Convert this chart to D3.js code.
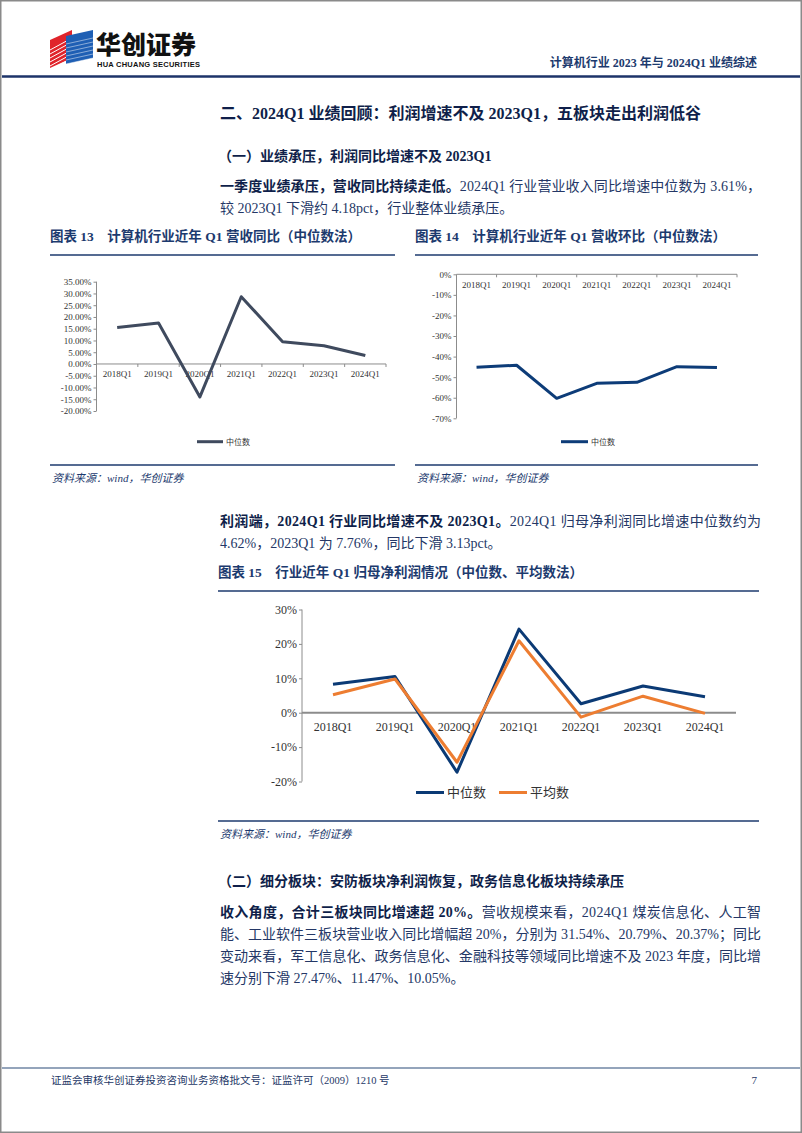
<!DOCTYPE html>
<html>
<head>
<meta charset="utf-8">
<style>
body { margin: 0; background: #fff; }
svg text { font-family: "Liberation Serif", "Noto Sans CJK SC", serif; }
</style>
</head>
<body>
<svg id="page" width="802" height="1133"></svg>
<script src="https://cdn.jsdelivr.net/npm/d3@7/dist/d3.min.js"></script>
<script>
    // data
    const quarters = ["2018Q1", "2019Q1", "2020Q1", "2021Q1", "2022Q1", "2023Q1", "2024Q1"];
    const rev_yoy = [15.5, 17.4, -14.0, 28.6, 9.5, 7.79, 3.61];
    const rev_qoq = [-45.2, -44.2, -60.3, -53.0, -52.5, -44.9, -45.3];
    const profit_median = [8.3, 10.5, -17.3, 24.3, 2.6, 7.76, 4.62];
    const profit_mean = [5.2, 9.8, -14.4, 20.9, -1.3, 4.8, -0.2];
    const yoy_ticks = [-20, -15, -10, -5, 0, 5, 10, 15, 20, 25, 30, 35];
    const qoq_ticks = [-70, -60, -50, -40, -30, -20, -10, 0];
    const profit_ticks = [-20, -10, 0, 10, 20, 30];

    const navy = "#1c3a6e";
    const ink = "#0f1f4a";
    const body = "#243766";
    const page = d3.select("#page");

    // page frame + header
    page.append("rect").attr("x", 0.75).attr("y", 0.75).attr("width", 800.5).attr("height", 1131.5)
        .style("fill", "none").style("stroke", "#8a8a8a").style("stroke-width", 1.5);
    page.append("line").attr("x1", 2).attr("x2", 800).attr("y1", 76.5).attr("y2", 76.5)
        .style("stroke", "#1d3369").style("stroke-width", 2.5);

    // logo cube
    const logo = page.append("g");
    logo.append("polygon").attr("points", "50,40 72,30 72,58 50,68").style("fill", "#e0242b");
    for (let k = 0; k < 6; k++) {
        logo.append("line").attr("x1", 50).attr("y1", 50 + k * 4).attr("x2", 72).attr("y2", 38 + k * 4)
            .style("stroke", "#fff").style("stroke-width", 1);
    }
    logo.append("polygon").attr("points", "66,36 93,30 93,58 66,64").style("fill", "#1f5fb4");
    for (let k = 0; k < 6; k++) {
        logo.append("line").attr("x1", 66).attr("y1", 44 + k * 4).attr("x2", 93).attr("y2", 38 + k * 4)
            .style("stroke", "#fff").style("stroke-width", 0.8).style("opacity", 0.6);
    }
    page.append("text").attr("x", 96).attr("y", 54).text("华创证券")
        .style("font-family", "Noto Sans CJK SC").style("font-weight", 900).style("font-size", "25px").style("fill", "#111");
    page.append("text").attr("x", 97).attr("y", 67).text("HUA CHUANG SECURITIES")
        .attr("textLength", 103).style("font-family", "Liberation Sans").style("font-weight", "bold")
        .style("font-size", "7.5px").style("fill", "#111");
    page.append("text").attr("x", 757).attr("y", 67).attr("text-anchor", "end")
        .text("计算机行业 2023 年与 2024Q1 业绩综述")
        .style("font-weight", "bold").style("font-size", "12px").style("fill", navy);

    // text helpers
    function heading(x, y, str, size) {
        page.append("text").attr("x", x).attr("y", y).text(str)
            .style("font-weight", "bold").style("font-size", size + "px").style("fill", ink);
    }
    function para(x, y, parts, width) {
        const t = page.append("text").attr("x", x).attr("y", y).style("font-size", "14px");
        if (width) t.attr("textLength", width).attr("lengthAdjust", "spacing");
        parts.forEach(p => {
            t.append("tspan").text(p[0])
                .style("font-weight", p[1] ? "bold" : "normal")
                .style("fill", p[1] ? ink : body);
        });
    }
    function figTitle(x, y, x2, str) {
        page.append("text").attr("x", x).attr("y", y).text(str)
            .style("font-weight", "bold").style("font-size", "13.5px").style("fill", navy);
        page.append("line").attr("x1", x).attr("x2", x2).attr("y1", y + 14).attr("y2", y + 14)
            .style("stroke", navy).style("stroke-width", 1.5);
    }
    function source(x, y, x2) {
        page.append("line").attr("x1", x).attr("x2", x2).attr("y1", y).attr("y2", y)
            .style("stroke", navy).style("stroke-width", 1.5);
        page.append("text").attr("x", x + 2).attr("y", y + 17).text("资料来源：wind，华创证券")
            .style("font-style", "italic").style("font-size", "11px").style("fill", navy);
    }

    heading(220, 119, "二、2024Q1 业绩回顾：利润增速不及 2023Q1，五板块走出利润低谷", 16);
    heading(218, 161, "（一）业绩承压，利润同比增速不及 2023Q1", 14);
    para(220, 191, [["一季度业绩承压，营收同比持续走低。", true], ["2024Q1 行业营业收入同比增速中位数为 3.61%，", false]], 541);
    para(220, 213, [["较 2023Q1 下滑约 4.18pct，行业整体业绩承压。", false]]);

    figTitle(50, 241, 395, "图表 13　计算机行业近年 Q1 营收同比（中位数法）");
    figTitle(415, 241, 758, "图表 14　计算机行业近年 Q1 营收环比（中位数法）");
    source(50, 465, 395);
    source(415, 465, 758);

    para(220, 526, [["利润端，2024Q1 行业同比增速不及 2023Q1。", true], ["2024Q1 归母净利润同比增速中位数约为", false]], 541);
    para(220, 548, [["4.62%，2023Q1 为 7.76%，同比下滑 3.13pct。", false]]);
    figTitle(218, 577, 759, "图表 15　行业近年 Q1 归母净利润情况（中位数、平均数法）");
    source(218, 821, 759);

    heading(218, 886, "（二）细分板块：安防板块净利润恢复，政务信息化板块持续承压", 14);
    para(220, 917, [["收入角度，合计三板块同比增速超 20%。", true], ["营收规模来看，2024Q1 煤炭信息化、人工智", false]], 541);
    para(220, 939, [["能、工业软件三板块营业收入同比增幅超 20%，分别为 31.54%、20.79%、20.37%；同比", false]], 541);
    para(220, 961, [["变动来看，军工信息化、政务信息化、金融科技等领域同比增速不及 2023 年度，同比增", false]], 541);
    para(220, 983, [["速分别下滑 27.47%、11.47%、10.05%。", false]]);

    // footer
    page.append("line").attr("x1", 2).attr("x2", 800).attr("y1", 1068).attr("y2", 1068)
        .style("stroke", "#2a4a78").style("stroke-width", 1.2);
    page.append("text").attr("x", 51).attr("y", 1084).text("证监会审核华创证券投资咨询业务资格批文号：证监许可（2009）1210 号")
        .style("font-size", "10.5px").style("fill", body);
    page.append("text").attr("x", 757).attr("y", 1084).attr("text-anchor", "end").text("7")
        .style("font-size", "11px").style("fill", body);

    // chart builder
    function drawChart(opt) {
        const g = page.append("g");
        const x = d3.scaleBand().domain(quarters).range([opt.left, opt.right]);
        const y = d3.scaleLinear().domain(opt.domain).range([opt.bottom, opt.top]);
        const cx = d => x(d) + x.bandwidth() / 2;

        const yAxis = g.append("g").attr("transform", `translate(${opt.left},0)`)
            .call(d3.axisLeft(y).tickValues(opt.ticks).tickSize(3).tickFormat(opt.fmt));
        yAxis.select(".domain").attr("d", `M0,${opt.bottom}V${opt.top}`).style("stroke", "#8c8c8c");
        yAxis.selectAll(".tick line").style("stroke", "#8c8c8c");
        yAxis.selectAll(".tick text").attr("x", -5)
            .style("font-family", "Liberation Serif").style("font-size", opt.fs + "px").style("fill", "#333");

        const y0 = y(opt.axisAt);
        g.append("line").attr("x1", opt.left).attr("x2", opt.right).attr("y1", y0).attr("y2", y0)
            .style("stroke", "#8c8c8c").style("stroke-width", opt.zw);
        if (opt.boundTicks) {
            g.selectAll("line.bt").data(quarters).enter().append("line")
                .attr("x1", (d, i) => opt.left + (i + 1) * x.bandwidth())
                .attr("x2", (d, i) => opt.left + (i + 1) * x.bandwidth())
                .attr("y1", y0).attr("y2", y0 + 3)
                .style("stroke", "#8c8c8c");
        }
        g.selectAll("text.cat").data(quarters).enter().append("text")
            .attr("x", cx).attr("y", y0 + opt.catDy).attr("text-anchor", "middle")
            .text(d => d)
            .style("font-family", "Liberation Serif").style("font-size", opt.fs + "px").style("fill", "#333");

        opt.series.forEach(s => {
            const line = d3.line().x((d, i) => cx(quarters[i])).y(d => y(d));
            g.append("path").datum(s.values).attr("d", line)
                .style("fill", "none").style("stroke", s.color).style("stroke-width", 3)
                .style("stroke-linejoin", "round");
        });

        // legend
        opt.series.forEach((s, i) => {
            const lx = opt.legendX[i];
            g.append("line").attr("x1", lx).attr("x2", lx + opt.legendLen)
                .attr("y1", opt.legendY).attr("y2", opt.legendY)
                .style("stroke", s.color).style("stroke-width", 3);
            g.append("text").attr("x", lx + opt.legendLen + 3).attr("y", opt.legendY + opt.lfs * 0.36)
                .text(s.name).style("font-family", "Noto Sans CJK SC").style("font-size", opt.lfs + "px")
                .style("fill", "#333");
        });
    }

    drawChart({
        left: 96.5, right: 386, top: 281.7, bottom: 411, domain: [-20, 35], ticks: yoy_ticks,
        fmt: d => d.toFixed(2) + "%", fs: 9, axisAt: 0, zw: 1, boundTicks: true, catDy: 13,
        series: [{name: "中位数", values: rev_yoy, color: "#3f4a5e"}],
        legendX: [197], legendLen: 26, legendY: 441.7, lfs: 8
    });
    drawChart({
        left: 456.5, right: 737, top: 274.3, bottom: 418.3, domain: [-70, 0], ticks: qoq_ticks,
        fmt: d => d + "%", fs: 9, axisAt: 0, zw: 1, boundTicks: true, catDy: 14,
        series: [{name: "中位数", values: rev_qoq, color: "#0d3c78"}],
        legendX: [561], legendLen: 27, legendY: 441.7, lfs: 8
    });
    drawChart({
        left: 302, right: 736, top: 609.5, bottom: 781.5, domain: [-20, 30], ticks: profit_ticks,
        fmt: d => d + "%", fs: 12, axisAt: 0, zw: 2, boundTicks: false, catDy: 18,
        series: [
            {name: "中位数", values: profit_median, color: "#0b3a75"},
            {name: "平均数", values: profit_mean, color: "#ed7d31"}
        ],
        legendX: [416, 499], legendLen: 28, legendY: 792.5, lfs: 13
    });
</script>
</body>
</html>
